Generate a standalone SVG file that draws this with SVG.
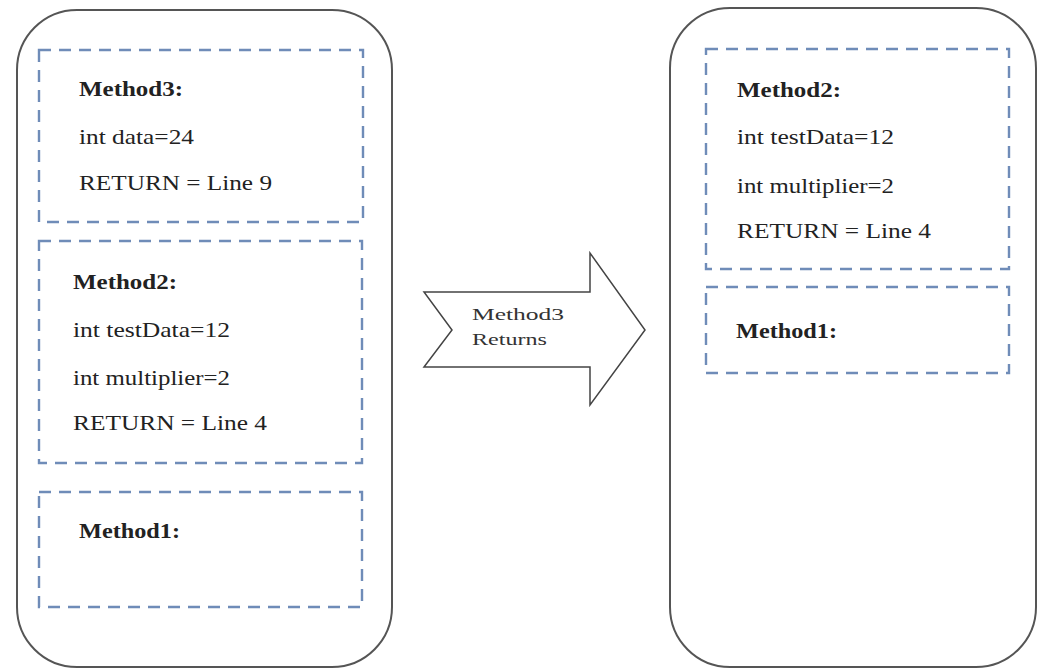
<svg xmlns="http://www.w3.org/2000/svg" width="1038" height="669" viewBox="0 0 1038 669">
<style>
.outer{fill:#ffffff;stroke:#555555;stroke-width:2}
.frame{fill:none;stroke:#6f8cb8;stroke-width:2.4;stroke-dasharray:12 8}
.t{font-family:"Liberation Serif","Times New Roman",serif;font-size:21px;fill:#222222}
.b{font-weight:bold}
.a{font-family:"Liberation Serif","Times New Roman",serif;font-size:17px;fill:#333333}
.arrow{fill:#ffffff;stroke:#444444;stroke-width:1.5}
</style>
<rect width="1038" height="669" fill="#ffffff"/>
<g id="left-stack">
<rect class="outer" x="17" y="10" width="375" height="657" rx="60" ry="60"/>
</g>
<g id="right-stack">
<rect class="outer" x="670" y="8" width="366" height="659" rx="60" ry="60"/>
</g>
<g id="left-method3">
<rect class="frame" x="39" y="50" width="324" height="172"/>
<text class="t b" x="79" y="96" textLength="104" lengthAdjust="spacingAndGlyphs">Method3:</text>
<text class="t" x="79" y="144" textLength="115" lengthAdjust="spacingAndGlyphs">int data=24</text>
<text class="t" x="79" y="190" textLength="193" lengthAdjust="spacingAndGlyphs">RETURN = Line 9</text>
</g>
<g id="left-method2">
<rect class="frame" x="39" y="241" width="323" height="222"/>
<text class="t b" x="73" y="289" textLength="104" lengthAdjust="spacingAndGlyphs">Method2:</text>
<text class="t" x="73" y="337" textLength="157" lengthAdjust="spacingAndGlyphs">int testData=12</text>
<text class="t" x="73" y="385" textLength="157" lengthAdjust="spacingAndGlyphs">int multiplier=2</text>
<text class="t" x="73" y="430" textLength="194" lengthAdjust="spacingAndGlyphs">RETURN = Line 4</text>
</g>
<g id="left-method1">
<rect class="frame" x="39" y="492" width="323" height="115"/>
<text class="t b" x="79" y="538" textLength="101" lengthAdjust="spacingAndGlyphs">Method1:</text>
</g>
<g id="right-method2">
<rect class="frame" x="706" y="49" width="303" height="220"/>
<text class="t b" x="737" y="97" textLength="104" lengthAdjust="spacingAndGlyphs">Method2:</text>
<text class="t" x="737" y="144" textLength="157" lengthAdjust="spacingAndGlyphs">int testData=12</text>
<text class="t" x="737" y="193" textLength="157" lengthAdjust="spacingAndGlyphs">int multiplier=2</text>
<text class="t" x="737" y="238" textLength="194" lengthAdjust="spacingAndGlyphs">RETURN = Line 4</text>
</g>
<g id="right-method1">
<rect class="frame" x="706" y="287" width="303" height="86"/>
<text class="t b" x="736" y="338" textLength="101" lengthAdjust="spacingAndGlyphs">Method1:</text>
</g>
<g id="connectors">
<g id="returns-arrow">
<polygon class="arrow" points="424,292 590,292 590,253 645,330 590,405 590,367 424,367 452,330"/>
<text class="a" x="472" y="320" textLength="92" lengthAdjust="spacingAndGlyphs">Method3</text>
<text class="a" x="472" y="345" textLength="75" lengthAdjust="spacingAndGlyphs">Returns</text>
</g>
</g>
</svg>
